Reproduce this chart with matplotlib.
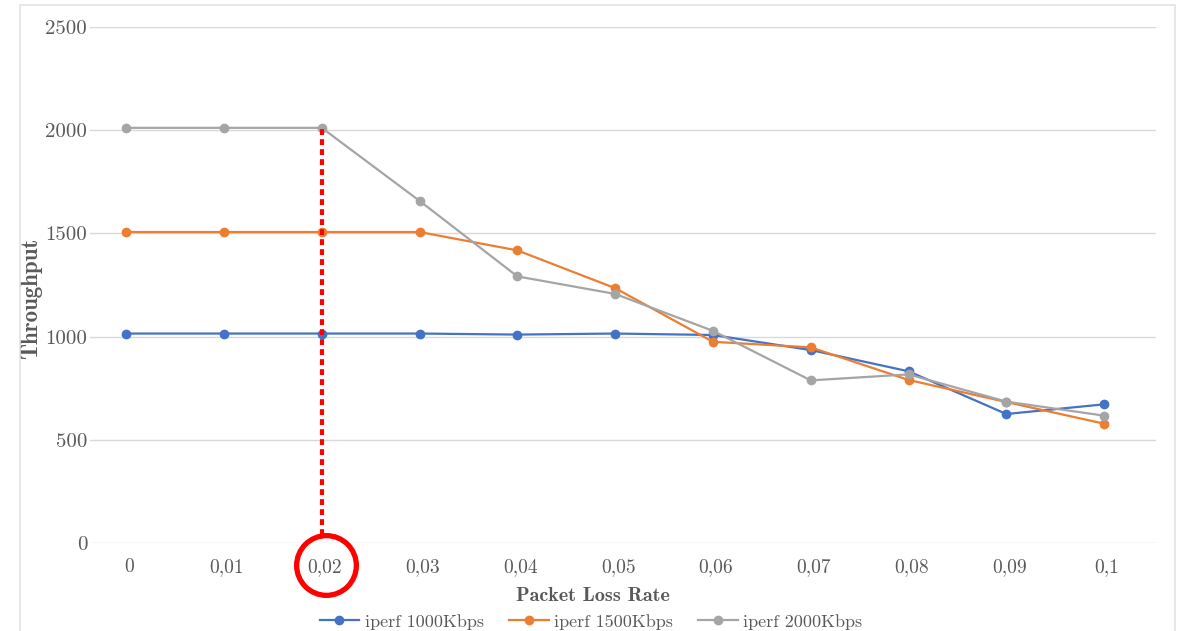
import matplotlib.pyplot as plt
import matplotlib.patches as patches

# dados
taxas_perda = ["0", "0,01", "0,02", "0,03", "0,04", "0,05", "0,06", "0,07", "0,08", "0,09", "0,1"]
iperf_1000 = [1015, 1015, 1015, 1015, 1010, 1015, 1008, 935, 832, 625, 672]
iperf_1500 = [1507, 1507, 1507, 1507, 1418, 1235, 975, 948, 790, 683, 578]
iperf_2000 = [2012, 2012, 2012, 1658, 1292, 1207, 1028, 788, 817, 685, 617]
series_labels = ["iperf 1000Kbps", "iperf 1500Kbps", "iperf 2000Kbps"]
yticks = [0, 500, 1000, 1500, 2000, 2500]

# ponto de saturação destacado
idx_destaque = 2
y_destaque_topo = 2012
y_destaque_base = 40
y_circulo = -107

cores = ['#4472C4', '#ED7D31', '#A5A5A5']


def plotar():
    fig = plt.figure(figsize=(11.79, 6.31), dpi=100)
    ax = fig.add_axes([0.0763, 0.1395, 0.9805 - 0.0763, 0.957 - 0.1395])

    # moldura externa do gráfico (estilo Excel)
    fig.patches.append(patches.Rectangle((20 / 1179, -0.01), (1175 - 20) / 1179, 1 - 5 / 631 + 0.01,
                                         transform=fig.transFigure, fill=False,
                                         edgecolor='#E3E3E3', linewidth=1.2))

    xs = list(range(len(taxas_perda)))
    for valores, cor, nome in zip([iperf_1000, iperf_1500, iperf_2000], cores, series_labels):
        ax.plot(xs, valores, color=cor, linewidth=1.6, marker='o', markersize=6, label=nome, zorder=3)

    # linha vermelha pontilhada e círculo no 0,02
    ax.plot([idx_destaque, idx_destaque], [y_destaque_base, y_destaque_topo], color='#FF0000',
            linewidth=3.0, linestyle=(0, (1.4, 1.0)), dash_capstyle='butt', zorder=4)
    ax.plot([idx_destaque + 0.04], [y_circulo], marker='o', markersize=43, markerfacecolor='none',
            markeredgecolor='#FF0000', markeredgewidth=3.8, clip_on=False, zorder=5)

    ax.set_xlim(-0.37, 10.53)
    ax.set_ylim(0, 2500)
    ax.set_yticks(yticks)
    ax.set_yticklabels([str(v) for v in yticks], family='cmr10', fontsize=15, color='#595959')
    ax.set_xticks([x + 0.03 for x in xs])
    ax.set_xticklabels(taxas_perda, family='cmr10', fontsize=14, color='#595959')
    ax.tick_params(length=0, pad=11)
    ax.tick_params(axis='y', pad=2)

    ax.grid(True, axis='y', color='#D9D9D9', linewidth=1)
    ax.set_axisbelow(True)
    for s in ax.spines.values():
        s.set_visible(False)

    ax.set_xlabel('Packet Loss Rate', family='cmb10', fontsize=14.5, color='#595959')
    ax.xaxis.set_label_coords(0.472, -0.085)
    ax.set_ylabel('Throughput', family='cmb10', fontsize=16.5, color='#595959')
    ax.yaxis.set_label_coords(-0.045, 0.475)

    ax.legend(loc='upper center', bbox_to_anchor=(0.47, -0.106), ncol=3, frameon=False,
              prop={'family': 'cmr10', 'size': 13}, labelcolor='#595959',
              handlelength=2.2, columnspacing=1.4, handletextpad=0.3)

    fig.savefig('out.png', dpi=100)
    plt.close(fig)


if __name__ == "__main__":
    plotar()
